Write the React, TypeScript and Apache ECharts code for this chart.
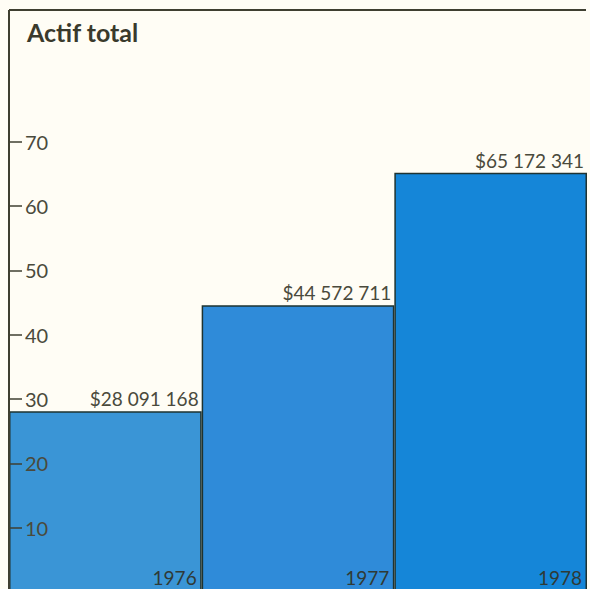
import React, { useEffect, useRef } from "react";
import * as echarts from "echarts";

const years = ["1976", "1977", "1978"];
const totals = [28091168, 44572711, 65172341];
const barColors = ["#3a95d6", "#2f8bd9", "#1586d8"];
const yTicks = [10, 20, 30, 40, 50, 60, 70];
const title = "Actif total";

const ink = "#3f3f30";
const labelInk = "#4a4a3c";

const money = (v: number) =>
  "$" + String(v).replace(/\B(?=(\d{3})+(?!\d))/g, " ");

export default function App() {
  const ref = useRef<HTMLDivElement>(null);
  useEffect(() => {
    if (!ref.current) return;
    const chart = echarts.init(ref.current, null, { renderer: "svg" });
    const millions = totals.map((v) => v / 1e6);
    chart.setOption({
      animation: false,
      backgroundColor: "#fffdf5",
      grid: { left: 9, right: 3, top: 13, bottom: 1 },
      xAxis: {
        type: "category",
        data: years,
        axisLine: { show: false },
        axisTick: { show: false },
        axisLabel: { show: false },
      },
      yAxis: {
        type: "value",
        min: 0,
        max: 90,
        interval: 10,
        z: 10,
        splitLine: { show: false },
        axisLine: { show: true, lineStyle: { color: ink, width: 2 } },
        axisTick: {
          show: true,
          inside: true,
          length: 13,
          customValues: yTicks,
          lineStyle: { color: ink, width: 1.5 },
        },
        axisLabel: {
          inside: true,
          margin: 16,
          customValues: yTicks,
          color: labelInk,
          fontSize: 20,
          fontFamily: "Lato",
        },
      },
      series: [
        {
          type: "bar",
          barWidth: "100%",
          barCategoryGap: 0,
          data: millions.map((v, i) => ({
            value: v,
            itemStyle: { color: barColors[i] },
          })),
          itemStyle: { borderColor: "#1e3331", borderWidth: 1.5 },
          label: {
            show: true,
            position: ["100%", 0],
            offset: [-3, -3],
            align: "right",
            verticalAlign: "bottom",
            formatter: (p: any) => money(totals[p.dataIndex]),
            color: labelInk,
            fontSize: 19,
            fontFamily: "Lato",
          },
          z: 2,
        },
        {
          type: "bar",
          barWidth: "100%",
          barGap: "-100%",
          data: millions,
          itemStyle: { color: "transparent" },
          label: {
            show: true,
            position: ["100%", "100%"],
            offset: [-5, -5],
            align: "right",
            verticalAlign: "bottom",
            formatter: "{b}",
            color: "#2f3a36",
            fontSize: 19,
            fontFamily: "Lato",
          },
          silent: true,
          z: 3,
        },
      ],
      graphic: [
        {
          type: "line",
          shape: { x1: 9, y1: 10, x2: 586, y2: 10 },
          style: { stroke: ink, lineWidth: 2 },
          z: 20,
        },
        {
          type: "line",
          shape: { x1: 9, y1: 10, x2: 9, y2: 593 },
          style: { stroke: ink, lineWidth: 2 },
          z: 20,
        },
        {
          type: "text",
          left: 27,
          top: 19,
          style: {
            text: title,
            fill: "#3a3a2c",
            font: "bold 25px Lato",
          },
        },
      ],
    });
    return () => chart.dispose();
  }, []);
  return (
    <div
      style={{
        position: "fixed",
        left: 0,
        top: 0,
        width: 590,
        height: 589,
        overflow: "hidden",
      }}
    >
      <div ref={ref} style={{ width: 590, height: 593 }} />
    </div>
  );
}
